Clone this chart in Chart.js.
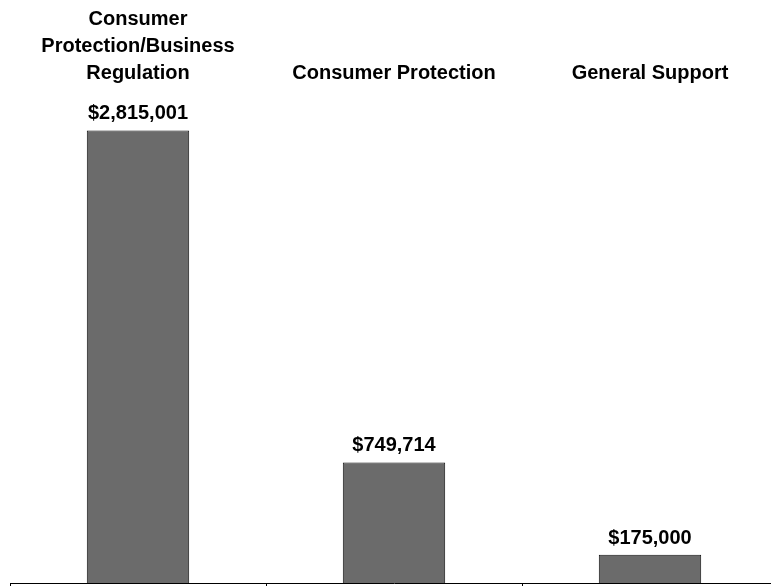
<!DOCTYPE html>
<html>
<head>
<meta charset="utf-8">
<style>
  html, body { margin: 0; padding: 0; background: #fff; overflow: hidden; }
  #wrap { width: 790px; height: 586px; }
</style>
<script src="https://cdn.jsdelivr.net/npm/chart.js@4/dist/chart.umd.min.js"></script>
</head>
<body>
<div id="wrap"><canvas id="c" width="790" height="586"></canvas></div>
<script>
const categories = [
  ["Consumer", "Protection/Business", "Regulation"],
  "Consumer Protection",
  "General Support"
];
const amounts = [2815001, 749714, 175000];
const amountLabels = ["$2,815,001", "$749,714", "$175,000"];
const yMax = 3048000;

const FONT = '"Liberation Sans", Arial, Helvetica, sans-serif';

const valueLabels = {
  id: 'valueLabels',
  afterDatasetsDraw(chart) {
    const ctx = chart.ctx;
    const meta = chart.getDatasetMeta(0);
    ctx.save();
    ctx.font = 'bold 20px ' + FONT;
    ctx.fillStyle = '#000';
    ctx.textAlign = 'center';
    ctx.textBaseline = 'alphabetic';
    meta.data.forEach((bar, i) => {
      ctx.fillText(amountLabels[i], bar.x, bar.y - 11);
    });
    ctx.restore();
  }
};

new Chart(document.getElementById('c'), {
  type: 'bar',
  data: {
    labels: categories,
    datasets: [{
      data: amounts,
      backgroundColor: '#6b6b6b',
      borderColor: '#111',
      borderWidth: 1,
      borderSkipped: 'bottom',
      barPercentage: 0.4,
      categoryPercentage: 1.0,
      xAxisID: 'x',
      yAxisID: 'y'
    }]
  },
  options: {
    responsive: false,
    animation: false,
    layout: { padding: { left: 10, right: 12, top: 0, bottom: 0 } },
    plugins: { legend: { display: false }, tooltip: { enabled: false } },
    scales: {
      x: {
        position: 'bottom',
        offset: true,
        grid: { display: true, offset: true, drawOnChartArea: false, drawTicks: true, tickLength: 3, color: '#000', lineWidth: 1 },
        border: { display: true, color: '#000', width: 1 },
        ticks: { display: false }
      },
      x2: {
        position: 'top',
        offset: true,
        labels: categories,
        grid: { display: false, drawTicks: false },
        border: { display: false },
        ticks: {
          color: '#000',
          font: { family: FONT, size: 20, weight: 'bold', lineHeight: 1.35 },
          maxRotation: 0,
          autoSkip: false,
          padding: 6
        }
      },
      y: {
        display: false,
        min: 0,
        max: yMax
      }
    }
  },
  plugins: [valueLabels]
});
</script>
</body>
</html>
